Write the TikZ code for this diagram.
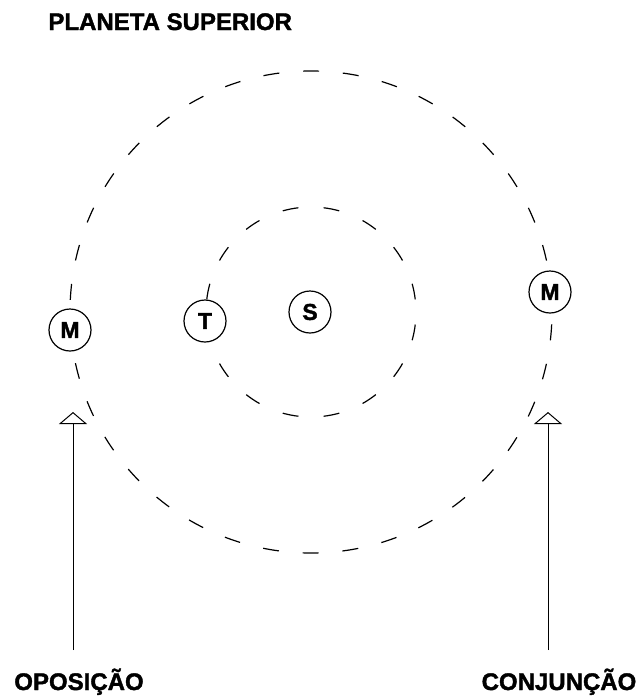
\documentclass[tikz,border=0pt]{standalone}
\usepackage{fontspec}
\setmainfont[BoldFeatures={FakeBold=1.6}]{Liberation Sans}
\usetikzlibrary{arrows.meta}
\tikzset{
  orbita/.style={line width=0.6pt},
  astro/.style={draw, circle, fill=white, line width=0.6pt, minimum size=21pt, inner sep=0pt, font=\fontsize{11.5}{11.5}\selectfont\bfseries},
  rotulo/.style={inner sep=0pt, font=\fontsize{12}{12}\selectfont\bfseries},
  seta/.style={line width=0.5pt, -{Triangle[open, width=14pt, length=6pt]}}
}

\begin{document}
\begin{tikzpicture}[x=0.5pt, y=-0.5pt]
  \useasboundingbox (0,0) rectangle (638,697);
  % orbitas
  \coordinate (centro) at (311,312);
  \draw[orbita, dash pattern=on 8pt off 11.92pt, dash phase=13.92pt] (centro) circle[radius=120.5pt];
  \draw[orbita, dash pattern=on 8pt off 12.62pt, dash phase=14.32pt] (centro) circle[radius=52.5pt];

  % astros
  \node [astro] (sol) at (310,312) {S};
  \node [astro] (terra) at (205,321) {T};
  \node [astro] (marteop) at (70,330) {M};
  \node [astro] (martecj) at (550,292) {M};

  % textos
  \node [rotulo, anchor=base west] (titulo) at (48,30) {PLANETA SUPERIOR};
  \node [rotulo, anchor=base] (oposicao) at (79,690) {OPOSIÇÃO};
  \node [rotulo, anchor=base] (conjuncao) at (559,690) {CONJUNÇÃO};

  % setas
  \coordinate (opbase) at (73,650);
  \coordinate (optopo) at (73,412);
  \coordinate (cjbase) at (548,650);
  \coordinate (cjtopo) at (548,412);
  \draw [seta] (opbase) -- (optopo);
  \draw [seta] (cjbase) -- (cjtopo);
\end{tikzpicture}
\end{document}
